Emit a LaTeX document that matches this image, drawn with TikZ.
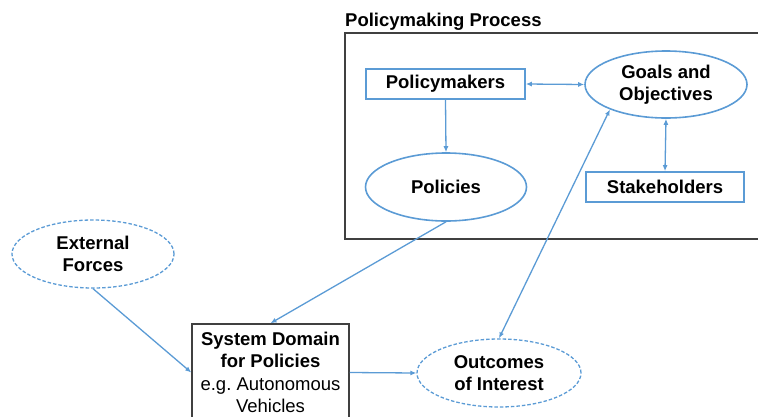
\documentclass[tikz,border=0pt]{standalone}
\usepackage{fontspec}
\setmainfont{Liberation Sans}
\usetikzlibrary{shapes.geometric,arrows.meta}
\definecolor{lblue}{HTML}{5B9BD5}
\definecolor{dgray}{HTML}{404040}
\tikzset{
  every node/.style={font=\fontsize{18.5}{22.5}\selectfont, align=center, inner sep=0pt},
  rectbox/.style={draw=lblue, line width=1.6pt, rectangle},
  ellbox/.style={draw=lblue, line width=1.6pt, ellipse},
  dashell/.style={draw=lblue, line width=1.3pt, ellipse, dash pattern=on 3.5pt off 2pt},
  conn/.style={draw=lblue, line width=1.3pt, -{Latex[length=6pt,width=5pt]}},
  dconn/.style={draw=lblue, line width=1.3pt, {Latex[length=6pt,width=5pt]}-{Latex[length=6pt,width=5pt]}}
}
\begin{document}
\begin{tikzpicture}[x=1pt,y=-1pt]
\useasboundingbox (0,0) rectangle (758,416);
% Policymaking process frame
\draw[dgray, line width=1.5pt] (345,33) rectangle (780,239);
\node[anchor=base west, font=\fontsize{18.5}{22}\selectfont\bfseries] (title) at (345,26) {Policymaking Process};
% nodes
\node[rectbox, minimum width=159pt, minimum height=30pt] (pm) at (445.5,84) {\bfseries Policymakers};
\node[ellbox, minimum width=162pt, minimum height=67pt] (goals) at (666,84.5) {\bfseries Goals and\\\bfseries Objectives};
\node[ellbox, minimum width=161pt, minimum height=68pt] (pol) at (446,187) {\bfseries Policies};
\node[rectbox, minimum width=158pt, minimum height=30pt] (st) at (665,187) {\bfseries Stakeholders};
\node[dashell, minimum width=162pt, minimum height=68pt] (ext) at (93,254) {\bfseries External\\\bfseries Forces};
\node[draw=dgray, line width=1.5pt, rectangle, minimum width=157pt, minimum height=97pt] (sys) at (270.5,372.5) {\bfseries System Domain\\\bfseries for Policies\\e.g.\ Autonomous\\Vehicles};
\node[dashell, minimum width=164pt, minimum height=68pt] (out) at (499,373) {\bfseries Outcomes\\\bfseries of Interest};
% connectors
\draw[dconn] (pm.east) -- (goals.west);
\draw[dconn] (goals.south) -- (st.north);
\draw[conn] (pm.south) -- (pol.north);
\draw[conn] (pol.south) -- (sys.north);
\draw[conn] (ext.south) -- (sys.west);
\draw[conn] (sys.east) -- (out.west);
\draw[dconn] (out.north) -- (goals.204);
\end{tikzpicture}
\end{document}
